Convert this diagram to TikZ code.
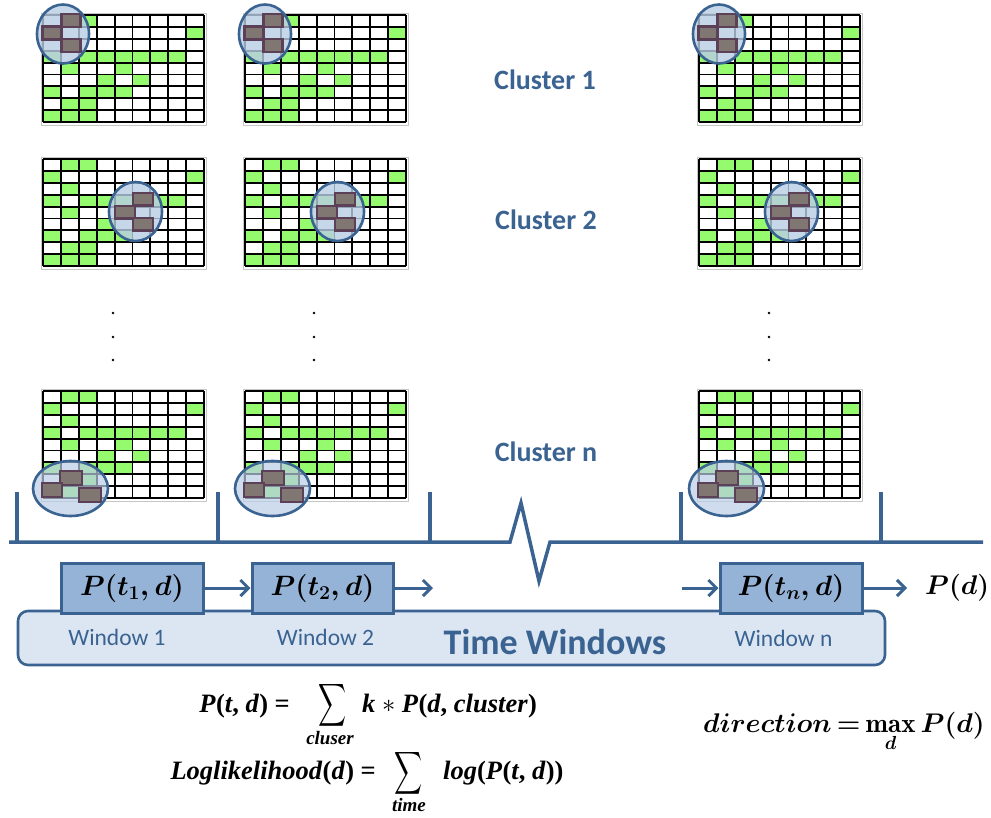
\RequirePackage{fix-cm}
\documentclass[tikz,border=0pt]{standalone}
\usepackage{amsmath}
\usepackage{fontspec}
\newfontfamily\lab{Carlito}
\newfontfamily\mf{Liberation Serif}
\newcommand\bi[1]{{\bfseries\itshape #1}}
\newcommand\bu[1]{{\bfseries\upshape #1}}
\usetikzlibrary{arrows.meta}
\definecolor{mblue}{RGB}{58,99,145}
\definecolor{boxfill}{RGB}{149,179,215}
\definecolor{winfill}{RGB}{220,230,242}
\definecolor{circfill}{RGB}{185,205,229}
\definecolor{cellgreen}{RGB}{150,250,110}
\definecolor{cellgray}{RGB}{128,118,114}
\definecolor{cellborder}{RGB}{92,64,88}
\newcommand\drawgrid{%
  \draw[black!22, line width=0.8pt] (-2,-2) rectangle (163.5,110);
  \foreach \rr/\cc in {0/1,0/2,1/0,1/8,2/1,3/0,3/2,3/3,3/4,3/5,3/6,3/7,4/1,4/4,5/3,5/5,6/0,6/2,6/3,6/4,7/1,7/2,8/0,8/1,8/2}
    \fill[cellgreen] (\cc*17.9,\rr*11.9) rectangle ++(17.9,11.9);
  \foreach \ii in {0,...,9} \draw[line width=1.9pt] (\ii*17.9,0) -- (\ii*17.9,107.1);
  \foreach \jj in {0,...,9} \draw[line width=1.9pt] (0,\jj*11.9) -- (161.1,\jj*11.9);
}
\newcommand\graycell[4]{\filldraw[fill=cellgray, draw=cellborder, line width=2.2pt] (#1,#2) rectangle ++(#3,#4);}
\newcommand\clusterA{%
  \drawgrid
  \fill[circfill, fill opacity=0.8] (20,19) ellipse [x radius=26, y radius=29.5];
  \graycell{18.5}{-1}{19}{13}\graycell{-0.5}{11.5}{19}{13}\graycell{18.5}{24}{19}{13}
  \draw[mblue, line width=2.6pt] (20,19) ellipse [x radius=26, y radius=29.5];
}
\newcommand\clusterB{%
  \drawgrid
  \fill[circfill, fill opacity=0.8] (92.5,52.5) ellipse [x radius=26.5, y radius=29.5];
  \graycell{90}{34}{20}{12.5}\graycell{72}{47}{20}{12.5}\graycell{90}{59}{20}{12.5}
  \draw[mblue, line width=2.6pt] (92.5,52.5) ellipse [x radius=26.5, y radius=29.5];
}
\newcommand\clusterN{%
  \drawgrid
  \fill[circfill, fill opacity=0.7] (27.5,97.5) ellipse [x radius=37.5, y radius=27.5];
  \graycell{17}{80}{22}{14}\graycell{-1}{92}{20}{14}\graycell{36}{97}{22}{14}
  \draw[mblue, line width=2.6pt] (27.5,97.5) ellipse [x radius=37.5, y radius=27.5];
}
\tikzset{
  tline/.style={mblue, line width=3.5pt},
  arr/.style={mblue, line width=3pt, -{Straight Barb[length=8pt,width=16pt]}},
  pbox/.style={draw=mblue, fill=boxfill, line width=3pt, minimum height=50pt, inner sep=0pt,
    font=\boldmath\fontsize{28}{32}\selectfont},
  clab/.style={text=mblue, font=\lab\bfseries\fontsize{28}{32}\selectfont},
  wlab/.style={text=mblue, font=\lab\fontsize{23.5}{27}\selectfont},
  mth/.style={inner sep=0pt, font=\boldmath\fontsize{27}{31}\selectfont},
  ftx/.style={inner sep=0pt, font=\mf\fontsize{26.5}{30}\selectfont},
  fsub/.style={inner sep=0pt, font=\mf\bfseries\itshape\fontsize{19}{22}\selectfont},
  fsum/.style={inner sep=0pt, font=\fontsize{26.5}{30}\selectfont},
  dotc/.style={fill=black, circle, inner sep=0pt, minimum size=2.6pt},
}
\begin{document}
\begin{tikzpicture}[x=1pt, y=-1pt]
\useasboundingbox (0,0) rectangle (991,817);
% grids
\begin{scope}[shift={(43,15)}]\clusterA\end{scope}
\begin{scope}[shift={(245,15)}]\clusterA\end{scope}
\begin{scope}[shift={(699,15)}]\clusterA\end{scope}
\begin{scope}[shift={(43,159)}]\clusterB\end{scope}
\begin{scope}[shift={(245,159)}]\clusterB\end{scope}
\begin{scope}[shift={(699,159)}]\clusterB\end{scope}
\begin{scope}[shift={(43,391)}]\clusterN\end{scope}
\begin{scope}[shift={(245,391)}]\clusterN\end{scope}
\begin{scope}[shift={(699,391)}]\clusterN\end{scope}
% dots
\foreach \xx/\nm in {113/a,314/b,769/c}{
  \node[dotc] (d1\nm) at (\xx,313) {};
  \node[dotc] (d2\nm) at (\xx,337) {};
  \node[dotc] (d3\nm) at (\xx,360) {};
}
% cluster labels
\node[clab] (c1) at (545,80) {Cluster 1};
\node[clab] (c2) at (546,220) {Cluster 2};
\node[clab] (cn) at (546,452) {Cluster n};
% timeline
\coordinate (t0) at (9,542);
\coordinate (z1) at (510,542);
\coordinate (z2) at (521,503);
\coordinate (z3) at (539,581);
\coordinate (z4) at (550,542);
\coordinate (t9) at (983,542);
\draw[tline] (t0) -- (z1) -- (z2) -- (z3) -- (z4) -- (t9);
\foreach \xx/\nm in {17/a,218/b,430/c,681/d,881/e}{
  \coordinate (k\nm) at (\xx,492);
  \coordinate (kb\nm) at (\xx,542);
  \draw[tline] (kb\nm) -- (k\nm);
}
% time windows
\node[draw=mblue, fill=winfill, line width=2.6pt, rounded corners=10pt, minimum width=867pt, minimum height=54pt] (tw) at (451.5,638) {};
\node[text=mblue, font=\lab\bfseries\fontsize{36}{40}\selectfont] (twl) at (555,642) {Time Windows};
\node[wlab] (w1) at (117,637) {Window 1};
\node[wlab] (w2) at (325.5,637) {Window 2};
\node[wlab] (wn) at (783.5,638) {Window n};
\node[pbox, minimum width=142pt] (b1) at (132,588) {$P(t_1,d)$};
\node[pbox, minimum width=141pt] (b2) at (322.5,588) {$P(t_2,d)$};
\node[pbox, minimum width=142pt] (bn) at (791,588) {$P(t_n,d)$};
\node[mth, anchor=west] (pd) at (925,588) {$P(d)$};
\coordinate (a2) at (433,588);
\coordinate (an) at (682,588);
\coordinate (ae) at (907,588);
\draw[arr] (b1.east) -- (b2.west);
\draw[arr] (b2.east) -- (a2);
\draw[arr] (an) -- (bn.west);
\draw[arr] (bn.east) -- (ae);
% formula 1
\node[ftx, anchor=base east] (f1l) at (290,712) {\bi{P}\kern0.5pt\bu{(}\bi{t}\bu{,} \bi{d}\kern0.5pt\bu{)} \bu{=}};
\node[fsum] (s1) at (332.5,705) {\scalebox{0.78}[1.2]{$\displaystyle\sum$}};
\node[fsub, anchor=base] (s1b) at (330,744) {cluser};
\node[ftx, anchor=base west] (f1r) at (362,712) {\bi{k} $\ast$ \bi{P}\kern0.5pt\bu{(}\bi{d}\bu{,} \bi{cluster}\kern0.5pt\bu{)}};
% formula 2
\node[ftx, anchor=base east] (f2l) at (376,779) {\bi{Loglikelihood}\kern0.5pt\bu{(}\bi{d}\kern0.5pt\bu{)} \bu{=}};
\node[fsum] (s2) at (409,773) {\scalebox{0.78}[1.2]{$\displaystyle\sum$}};
\node[fsub, anchor=base] (s2b) at (409,811) {time};
\node[ftx, anchor=base west] (f2r) at (443,779) {\bi{log}\bu{(}\bi{P}\kern0.5pt\bu{(}\bi{t}\bu{,} \bi{d}\kern0.5pt\bu{))}};
% formula 3
\node[mth, anchor=base west] (f3) at (703,732) {$direction \mskip-2mu = \mskip-2mu \max\limits_{d} P(d)$};
\end{tikzpicture}
\end{document}
